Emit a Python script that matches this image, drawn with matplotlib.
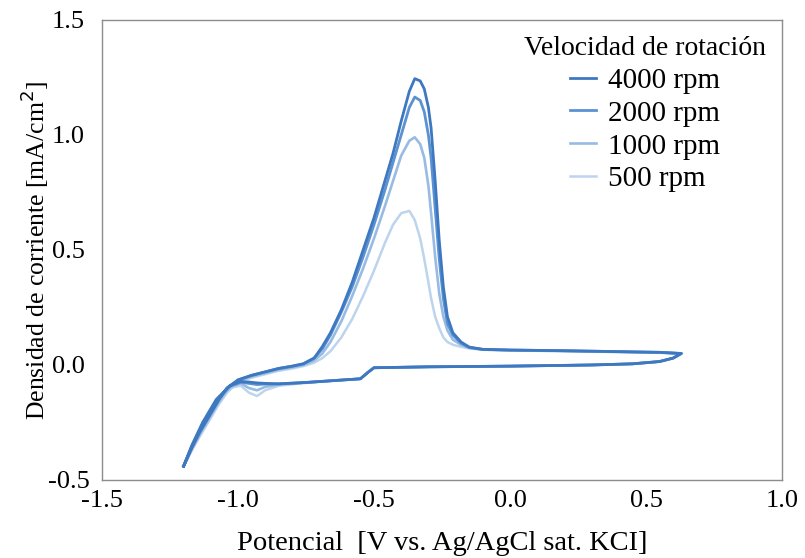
import matplotlib.pyplot as plt

# =====================================================
# DATA
# =====================================================

# forward (anodic) sweep, -1.2 V -> +0.63 V
fwd_x = [-1.20, -1.17, -1.14, -1.10, -1.07, -1.04, -1.00, -0.95, -0.90, -0.85,
         -0.80, -0.76, -0.72, -0.69, -0.66, -0.62, -0.58, -0.54, -0.50, -0.46,
         -0.43, -0.40, -0.37, -0.35, -0.33, -0.315, -0.30, -0.29, -0.275, -0.26,
         -0.245, -0.23, -0.21, -0.18, -0.15, -0.10, 0.00, 0.20, 0.40, 0.55, 0.63]

fwd_4000 = [-0.44, -0.36, -0.29, -0.21, -0.15, -0.10, -0.065, -0.045, -0.03, -0.015,
            -0.005, 0.005, 0.03, 0.08, 0.14, 0.24, 0.36, 0.50, 0.64, 0.80,
            0.92, 1.06, 1.19, 1.245, 1.235, 1.20, 1.12, 1.03, 0.80, 0.54,
            0.34, 0.21, 0.14, 0.10, 0.078, 0.068, 0.065, 0.062, 0.058, 0.055, 0.05]
fwd_2000 = [-0.44, -0.36, -0.29, -0.21, -0.15, -0.10, -0.065, -0.045, -0.03, -0.015,
            -0.005, 0.005, 0.03, 0.07, 0.13, 0.23, 0.34, 0.47, 0.61, 0.76,
            0.88, 1.00, 1.12, 1.165, 1.15, 1.10, 1.00, 0.90, 0.68, 0.46,
            0.29, 0.18, 0.13, 0.095, 0.076, 0.068, 0.065, 0.062, 0.058, 0.055, 0.05]
fwd_1000 = [-0.44, -0.37, -0.30, -0.22, -0.16, -0.11, -0.07, -0.05, -0.035, -0.02,
            -0.01, 0.0, 0.02, 0.05, 0.10, 0.19, 0.30, 0.42, 0.55, 0.69,
            0.80, 0.91, 0.975, 0.99, 0.96, 0.90, 0.78, 0.66, 0.47, 0.31,
            0.21, 0.15, 0.11, 0.088, 0.075, 0.067, 0.064, 0.061, 0.057, 0.054, 0.05]
fwd_500 = [-0.44, -0.37, -0.31, -0.23, -0.17, -0.12, -0.075, -0.055, -0.04, -0.025,
           -0.015, -0.005, 0.01, 0.03, 0.06, 0.12, 0.20, 0.30, 0.41, 0.53,
           0.61, 0.66, 0.67, 0.63, 0.55, 0.46, 0.36, 0.29, 0.21, 0.16,
           0.12, 0.10, 0.088, 0.079, 0.072, 0.066, 0.063, 0.06, 0.056, 0.053, 0.05]

# reverse (cathodic) sweep, +0.63 V -> -1.2 V
rev_x = [0.63, 0.60, 0.55, 0.45, 0.30, 0.00, -0.30, -0.50, -0.52, -0.55,
         -0.65, -0.75, -0.85, -0.90, -0.93, -0.96, -0.99, -1.03, -1.08, -1.13,
         -1.17, -1.20]

rev_4000 = [0.05, 0.03, 0.015, 0.005, 0.0, -0.005, -0.008, -0.012, -0.03, -0.06,
            -0.068, -0.076, -0.082, -0.08, -0.078, -0.074, -0.072, -0.09, -0.15, -0.25,
            -0.35, -0.44]
rev_2000 = [0.05, 0.03, 0.015, 0.005, 0.0, -0.005, -0.008, -0.012, -0.03, -0.06,
            -0.068, -0.076, -0.082, -0.083, -0.085, -0.08, -0.075, -0.092, -0.155, -0.255,
            -0.355, -0.44]
rev_1000 = [0.05, 0.03, 0.015, 0.005, 0.0, -0.005, -0.008, -0.012, -0.03, -0.06,
            -0.068, -0.076, -0.085, -0.095, -0.11, -0.10, -0.08, -0.095, -0.16, -0.26,
            -0.36, -0.44]
rev_500 = [0.05, 0.03, 0.015, 0.005, 0.0, -0.005, -0.008, -0.012, -0.03, -0.06,
           -0.068, -0.078, -0.09, -0.11, -0.135, -0.12, -0.09, -0.10, -0.165, -0.265,
           -0.365, -0.44]

labels = ["4000 rpm", "2000 rpm", "1000 rpm", "500 rpm"]
fwd_series = [fwd_4000, fwd_2000, fwd_1000, fwd_500]
rev_series = [rev_4000, rev_2000, rev_1000, rev_500]
colors = ["#3d78c0", "#5b92d2", "#98bbe3", "#bdd4ee"]
widths = [2.0, 2.0, 1.9, 1.8]

# =====================================================
# PLOT
# =====================================================

plt.rcParams["font.family"] = ["Liberation Serif", "DejaVu Serif"]

fig = plt.figure(figsize=(8.05, 5.58), dpi=100)
ax = fig.add_axes([0.1267, 0.1398, 0.8447, 0.8244])

# lightest first so the darker curves sit on top
for lab, fy, ry, col, lw in reversed(list(zip(labels, fwd_series, rev_series, colors, widths))):
    ax.plot(fwd_x + rev_x, fy + ry, color=col, lw=lw, label=lab,
            solid_joinstyle="round")

ax.set_xlim(-1.5, 1.0)
ax.set_ylim(-0.5, 1.5)
ax.set_xticks([-1.5, -1.0, -0.5, 0.0, 0.5, 1.0])
ax.set_yticks([-0.5, 0.0, 0.5, 1.0, 1.5])
ax.set_xticklabels(["-1.5", "-1.0", "-0.5", "0.0", "0.5", "1.0"])
ax.set_yticklabels(["-0.5", "0.0", "0.5", "1.0", "1.5"], ha="center")
ax.tick_params(length=0, labelsize=19)
ax.tick_params(axis="x", pad=7)
ax.tick_params(axis="y", pad=24)

for sp in ax.spines.values():
    sp.set_color("#8c8c8c")
    sp.set_linewidth(1.0)

ax.set_xlabel("Potencial  [V vs. Ag/AgCl sat. KCI]", fontsize=20.5, labelpad=14)
ax.set_ylabel("Densidad de corriente [mA/cm$^2$]", fontsize=18.5, labelpad=-2)

handles, labs = ax.get_legend_handles_labels()
order = [labs.index(l) for l in labels]
ax.legend([handles[i] for i in order], [labs[i] for i in order],
          title="Velocidad de rotación", loc="upper right", frameon=False,
          fontsize=21, title_fontsize=20, handlelength=0.9, handletextpad=0.4,
          labelspacing=0.22, borderaxespad=0.25, borderpad=0.3)

fig.savefig("out.png", dpi=100)
